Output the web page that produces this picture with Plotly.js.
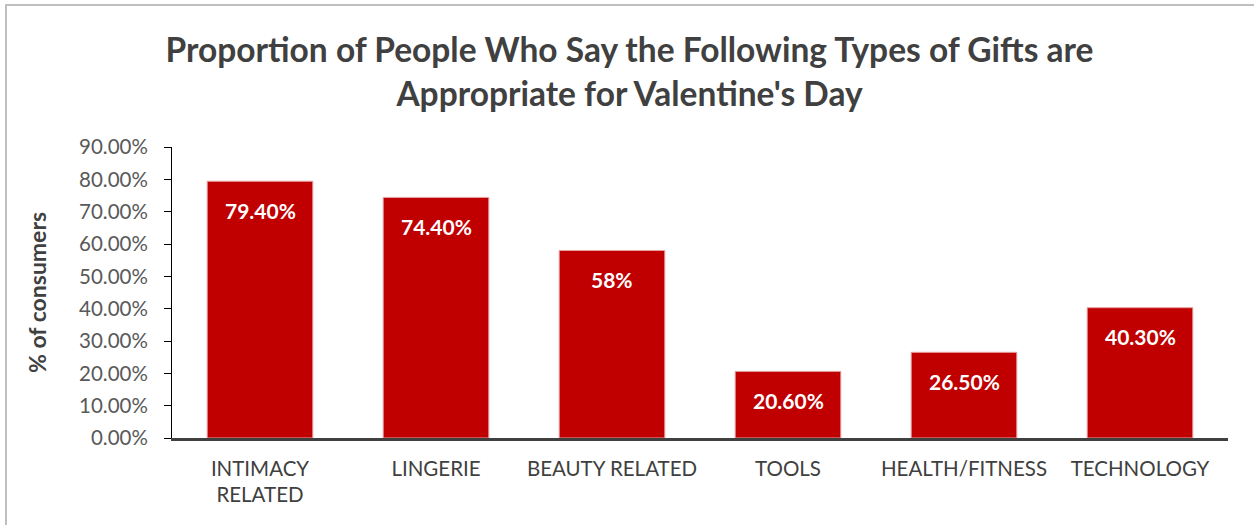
<!DOCTYPE html>
<html>
<head>
<meta charset="utf-8">
<script src="https://cdn.plot.ly/plotly-3.0.1.min.js"></script>
<style>
  html, body { margin: 0; padding: 0; background: #fff; }
  #chart { width: 1254px; height: 525px; }
</style>
</head>
<body>
<div id="chart"></div>
<script>
const categories = ["INTIMACY<br>RELATED", "LINGERIE", "BEAUTY RELATED", "TOOLS", "HEALTH/FITNESS", "TECHNOLOGY"];
const values = [79.4, 74.4, 58, 20.6, 26.5, 40.3];
const labels = ["79.40%", "74.40%", "58%", "20.60%", "26.50%", "40.30%"];
const yTickVals = [0, 10, 20, 30, 40, 50, 60, 70, 80, 90];
const yTickText = ["0.00%", "10.00%", "20.00%", "30.00%", "40.00%", "50.00%", "60.00%", "70.00%", "80.00%", "90.00%"];

const FONT = "Lato, Calibri, sans-serif";

const trace = {
  type: "bar",
  x: categories,
  y: values,
  marker: { color: "#C00000", line: { color: "#E8A0A0", width: 1 } },
  hoverinfo: "skip"
};

const annotations = categories.map((c, i) => ({
  x: c, y: values[i], xref: "x", yref: "y",
  text: "<b>" + labels[i] + "</b>", showarrow: false, yshift: -29, yanchor: "middle",
  font: { family: FONT, size: 21, color: "#ffffff" }
}));

const layout = {
  width: 1254, height: 525,
  paper_bgcolor: "#ffffff", plot_bgcolor: "#ffffff",
  margin: { l: 172, r: 26, t: 147, b: 87 },
  bargap: 0.4,
  showlegend: false,
  title: {
    text: "<b>Proportion of People Who Say the Following Types of Gifts are<br>Appropriate for Valentine's Day</b>",
    font: { family: FONT, size: 33.5, color: "#404040" },
    x: 0.502, xanchor: "center", y: 0.881, yanchor: "middle"
  },
  xaxis: {
    type: "category",
    showline: true, linecolor: "#404040", linewidth: 3,
    ticks: "", showgrid: false, zeroline: false,
    tickfont: { family: FONT, size: 20.5, color: "#404040" },
    ticklabelstandoff: 10
  },
  yaxis: {
    range: [0, 90],
    tickvals: yTickVals, ticktext: yTickText,
    showline: true, linecolor: "#000000", linewidth: 1,
    ticks: "outside", ticklen: 7, tickcolor: "#000000", tickwidth: 1,
    ticklabelstandoff: 12,
    showgrid: false, zeroline: false,
    tickfont: { family: FONT, size: 20.5, color: "#595959" },
    title: { text: "<b>% of consumers</b>", font: { family: FONT, size: 23, color: "#404040" }, standoff: 26 }
  },
  annotations: annotations,
  shapes: [
    { type: "rect", xref: "paper", yref: "paper", layer: "above",
      x0: -0.1572, x1: 1.1, y0: -0.5, y1: 1.488,
      line: { color: "#BFBFBF", width: 2 }, fillcolor: "rgba(0,0,0,0)" }
  ]
};

Plotly.newPlot("chart", [trace], layout, { displayModeBar: false, staticPlot: true });
</script>
</body>
</html>
